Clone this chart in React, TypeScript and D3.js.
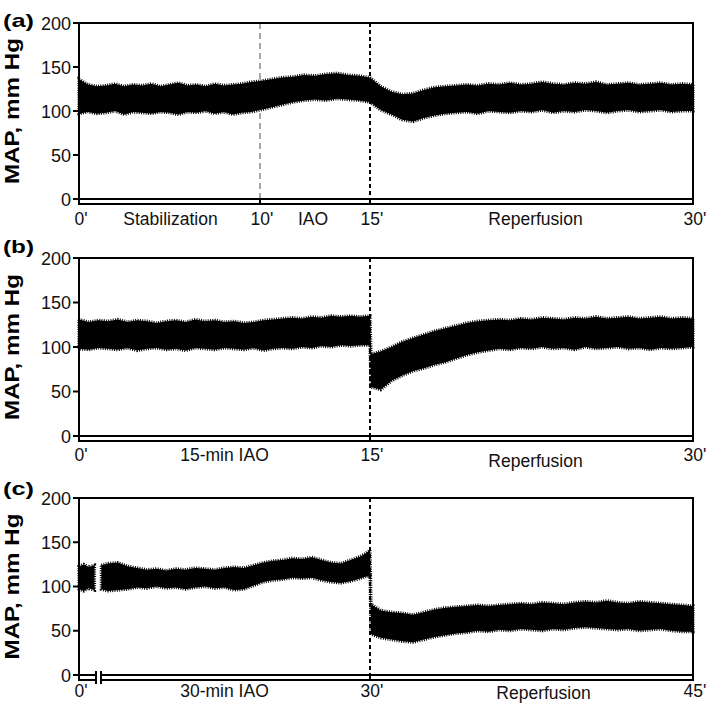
import React from "react";
import * as d3 from "d3";

const yTicks = [0, 50, 100, 150, 200];
const yLabel = "MAP, mm Hg";

// ---------- Panel (a) ----------
const tickTimesA = [0, 10, 15, 30];
const tickLabelsA = ["0'", "10'", "15'", "30'"];
const phaseLabelsA = ["Stabilization", "IAO", "Reperfusion"];
const timeA = [0, 0.5, 1, 1.5, 2, 2.5, 3, 3.5, 4, 4.5, 5, 5.5, 6, 6.5, 7, 7.5, 8, 8.5, 9, 9.5, 10, 10.5, 11, 11.5, 12, 12.5, 13, 13.5, 14, 14.5, 15, 15.5, 16, 16.5, 17, 17.5, 18, 18.5, 19, 19.5, 20, 20.5, 21, 21.5, 22, 22.5, 23, 23.5, 24, 24.5, 25, 25.5, 26, 26.5, 27, 27.5, 28, 28.5, 29, 29.5, 30];
const highA = [136, 130, 128, 129, 131, 128, 130, 129, 131, 128, 130, 132, 129, 130, 128, 131, 129, 130, 131, 133, 134, 136, 138, 139, 141, 140, 142, 143, 141, 140, 138, 128, 122, 119, 120, 124, 127, 128, 129, 130, 129, 131, 130, 132, 130, 131, 133, 131, 130, 132, 131, 133, 130, 131, 132, 130, 131, 132, 130, 131, 130];
const lowA = [97, 99, 97, 98, 100, 96, 99, 98, 97, 99, 98, 96, 99, 98, 100, 97, 99, 96, 98, 99, 101, 104, 107, 110, 112, 113, 112, 114, 113, 112, 110, 101, 96, 90, 88, 92, 95, 97, 98, 99, 97, 100, 99, 98, 100, 99, 101, 98, 100, 99, 101, 100, 98, 100, 101, 99, 100, 101, 99, 100, 100];

// ---------- Panel (b) ----------
const tickTimesB = [0, 15, 30];
const tickLabelsB = ["0'", "15'", "30'"];
const phaseLabelsB = ["15-min IAO", "Reperfusion"];
const timeB = [0, 0.5, 1, 1.5, 2, 2.5, 3, 3.5, 4, 4.5, 5, 5.5, 6, 6.5, 7, 7.5, 8, 8.5, 9, 9.5, 10, 10.5, 11, 11.5, 12, 12.5, 13, 13.5, 14, 14.5, 15, 15.05, 15.5, 16, 16.5, 17, 17.5, 18, 18.5, 19, 19.5, 20, 20.5, 21, 21.5, 22, 22.5, 23, 23.5, 24, 24.5, 25, 25.5, 26, 26.5, 27, 27.5, 28, 28.5, 29, 29.5, 30];
const highB = [131, 128, 130, 129, 131, 128, 130, 129, 127, 129, 130, 128, 131, 129, 130, 128, 129, 127, 128, 130, 131, 132, 133, 132, 134, 133, 135, 134, 135, 134, 135, 92, 95, 100, 106, 110, 114, 118, 121, 124, 127, 129, 130, 131, 130, 132, 131, 133, 132, 131, 133, 132, 134, 132, 133, 134, 132, 133, 134, 132, 133, 132];
const lowB = [98, 97, 99, 98, 97, 99, 96, 98, 99, 97, 98, 96, 99, 98, 97, 99, 98, 97, 99, 96, 98, 99, 98, 100, 99, 101, 100, 102, 101, 102, 102, 55, 52, 62, 68, 73, 76, 80, 83, 87, 91, 94, 96, 98, 97, 99, 98, 100, 98, 99, 97, 100, 98, 99, 100, 98, 99, 97, 99, 98, 99, 100];

// ---------- Panel (c) ----------
const tickTimesC = [0, 30, 45];
const tickLabelsC = ["0'", "30'", "45'"];
const phaseLabelsC = ["30-min IAO", "Reperfusion"];
const timeC = [0, 0.5, 1, 1.6, 1.95, 2.3, 3, 4, 5, 6, 7, 8, 9, 10, 11, 12, 13, 14, 15, 16, 17, 18, 19, 20, 21, 22, 23, 24, 25, 26, 27, 28, 29, 29.5, 30, 30.05, 30.5, 31, 31.5, 32, 32.5, 33, 33.5, 34, 34.5, 35, 35.5, 36, 36.5, 37, 37.5, 38, 38.5, 39, 39.5, 40, 40.5, 41, 41.5, 42, 42.5, 43, 43.5, 44, 44.5, 45];
const highC = [123, 125, 122, 124, null, 124, 126, 127, 123, 121, 119, 120, 118, 120, 119, 121, 120, 119, 121, 122, 121, 124, 127, 129, 130, 132, 131, 133, 130, 127, 126, 130, 134, 137, 141, 80, 73, 71, 70, 68, 71, 74, 76, 77, 78, 79, 78, 79, 80, 81, 80, 82, 81, 80, 82, 83, 82, 84, 82, 81, 83, 82, 81, 80, 79, 78];
const lowC = [97, 95, 98, 96, null, 97, 95, 96, 97, 99, 98, 100, 98, 99, 97, 99, 100, 98, 99, 96, 97, 101, 105, 107, 108, 110, 109, 110, 107, 105, 104, 106, 109, 111, 112, 46, 42, 40, 38, 37, 40, 43, 45, 47, 48, 50, 49, 51, 50, 52, 51, 50, 52, 51, 53, 54, 53, 52, 51, 52, 50, 51, 52, 50, 49, 49];

type PanelProps = {
  letter: string;
  top: number;
  bottom: number;
  ticks: number[];
  tickPx: number[];
  tickLabels: string[];
  phases: string[];
  phaseDx?: number[];
  phaseDy?: number[];
  labelBaseline: number;
  letterBaseline: number;
  dashes: { t: number; color: string; w: number; da: string }[];
  time: number[];
  low: (number | null)[];
  high: (number | null)[];
  breakPx?: [number, number];
};

const FONT = "'Liberation Sans', Arial, Helvetica, sans-serif";

function Panel(p: PanelProps) {
  const x = d3.scaleLinear().domain(p.ticks).range(p.tickPx);
  const y = d3.scaleLinear().domain([0, 200]).range([p.bottom, p.top]);
  const axisY = p.bottom + 5;
  const x0 = p.tickPx[0];
  const x1 = p.tickPx[p.tickPx.length - 1];
  const pts = p.time.map((t, i) => ({ t, lo: p.low[i], hi: p.high[i] }));
  const area = d3
    .area<any>()
    .defined((d) => d.lo != null && d.hi != null)
    .x((d) => x(d.t))
    .y0((d) => y(d.lo))
    .y1((d) => y(d.hi));
  const path = area(pts) || "";

  const hSegs: [number, number][] = p.breakPx
    ? [
        [x0, p.breakPx[0]],
        [p.breakPx[1], x1],
      ]
    : [[x0, x1]];

  return (
    <g>
      {/* letter */}
      <text x={3} y={p.letterBaseline} fontFamily={FONT} fontWeight="bold" fontSize={19} textLength={31} lengthAdjust="spacingAndGlyphs">
        {p.letter}
      </text>
      {/* y label */}
      <text
        transform={`translate(19,${(p.top + p.bottom) / 2}) rotate(-90)`}
        textAnchor="middle"
        fontFamily={FONT}
        fontWeight="bold"
        fontSize={21}
        textLength={146}
        lengthAdjust="spacingAndGlyphs"
      >
        {yLabel}
      </text>
      {/* dashed markers */}
      {p.dashes.map((d, i) => (
        <line key={"d" + i} x1={x(d.t)} x2={x(d.t)} y1={p.top} y2={axisY} stroke={d.color} strokeWidth={d.w} strokeDasharray={d.da} />
      ))}
      {/* signal band */}
      <path d={path} fill="#000" stroke="none" />
      {/* fuzzy fringe of the noisy trace */}
      <path d={path} fill="none" stroke="#000" strokeWidth={3.2} strokeDasharray="1,1.3" />
      {/* box */}
      <line x1={x0} x2={x1} y1={p.top} y2={p.top} stroke="#000" strokeWidth={2} />
      <line x1={x0} x2={x0} y1={p.top - 1} y2={axisY + 1} stroke="#000" strokeWidth={2} />
      <line x1={x1} x2={x1} y1={p.top - 1} y2={axisY + 1} stroke="#000" strokeWidth={2} />
      {hSegs.map((s, i) => (
        <g key={"h" + i}>
          <line x1={s[0]} x2={s[1]} y1={p.bottom} y2={p.bottom} stroke="#000" strokeWidth={2} />
          <line x1={s[0]} x2={s[1]} y1={axisY} y2={axisY} stroke="#000" strokeWidth={2} />
        </g>
      ))}
      {p.breakPx &&
        p.breakPx.map((bx, i) => (
          <line key={"b" + i} x1={bx} x2={bx} y1={p.bottom - 4} y2={axisY + 4} stroke="#000" strokeWidth={2} />
        ))}
      {/* x ticks */}
      {p.ticks.map((t, i) => (
        <line key={"xt" + i} x1={x(t)} x2={x(t)} y1={p.bottom} y2={axisY} stroke="#000" strokeWidth={2} />
      ))}
      {/* y ticks */}
      {yTicks.map((v) => (
        <g key={"yt" + v}>
          <line x1={x0 - 6} x2={x0} y1={y(v)} y2={y(v)} stroke="#000" strokeWidth={2} />
          <text x={x0 - 8} y={y(v) + 6.5} textAnchor="end" fontFamily={FONT} fontSize={18} fill="#111">
            {v}
          </text>
        </g>
      ))}
      {/* x tick labels */}
      {p.ticks.map((t, i) => (
        <text key={"xl" + i} x={x(t) + 2} y={p.labelBaseline} textAnchor="middle" fontFamily={FONT} fontSize={17.5} fill="#111">
          {p.tickLabels[i]}
        </text>
      ))}
      {/* phase labels */}
      {p.phases.map((ph, i) => (
        <text
          key={"ph" + i}
          x={(x(p.ticks[i]) + x(p.ticks[i + 1])) / 2 + (p.phaseDx ? p.phaseDx[i] : 0)}
          y={p.labelBaseline + (p.phaseDy ? p.phaseDy[i] : 0)}
          textAnchor="middle"
          fontFamily={FONT}
          fontSize={17.5}
          fill="#111"
        >
          {ph}
        </text>
      ))}
    </g>
  );
}

export default function App() {
  return (
    <svg width={709} height={706} viewBox="0 0 709 706" style={{ position: "absolute", left: 0, top: 0, background: "#fff" }}>
      <rect x={0} y={0} width={709} height={706} fill="#fff" />
      <Panel
        letter="(a)"
        top={23}
        bottom={199}
        ticks={tickTimesA}
        tickPx={[79, 260, 370, 693]}
        tickLabels={tickLabelsA}
        phases={phaseLabelsA}
        phaseDx={[1, -2, 4]}
        labelBaseline={225}
        letterBaseline={27}
        dashes={[
          { t: 10, color: "#8a8a8a", w: 1.5, da: "6,4" },
          { t: 15, color: "#000", w: 2, da: "4,3" },
        ]}
        time={timeA}
        low={lowA}
        high={highA}
      />
      <Panel
        letter="(b)"
        top={258}
        bottom={436}
        ticks={tickTimesB}
        tickPx={[79, 370, 693]}
        tickLabels={tickLabelsB}
        phases={phaseLabelsB}
        phaseDx={[0, 4]}
        phaseDy={[0, 6]}
        labelBaseline={461}
        letterBaseline={253}
        dashes={[{ t: 15, color: "#000", w: 2, da: "4,3" }]}
        time={timeB}
        low={lowB}
        high={highB}
      />
      <Panel
        letter="(c)"
        top={498}
        bottom={675}
        ticks={tickTimesC}
        tickPx={[79, 370, 693]}
        tickLabels={tickLabelsC}
        phases={phaseLabelsC}
        phaseDx={[0, 12]}
        phaseDy={[0, 2]}
        labelBaseline={697}
        letterBaseline={495}
        dashes={[{ t: 30, color: "#000", w: 2, da: "4,3" }]}
        time={timeC}
        low={lowC}
        high={highC}
        breakPx={[96, 101]}
      />
    </svg>
  );
}
